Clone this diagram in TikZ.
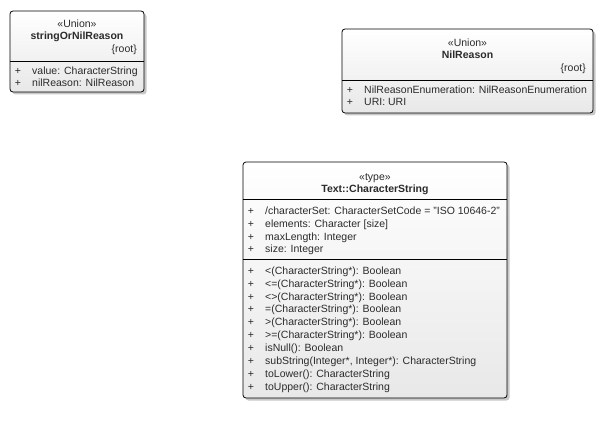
\documentclass[tikz,border=0pt]{standalone}
\usepackage{fontspec}
\setmainfont{Liberation Sans}
\definecolor{txt}{HTML}{2B2B2B}
\definecolor{shadowc}{HTML}{C8C8C8}
\tikzset{
 lbl/.style={inner sep=0pt,text height=8pt,text depth=0pt,font=\fontsize{10.5}{12}\selectfont,text=txt},
 bname/.style={lbl,font=\fontsize{10.5}{12}\selectfont\bfseries},
 row/.style={lbl,anchor=west},
 boxshadow/.style={fill=shadowc,rounded corners=3pt},
 boxbody/.style={draw=black,line width=0.8pt,rounded corners=3pt,top color=white,bottom color=black!9},
 sepline/.style={draw=black,line width=0.8pt}
}
\begin{document}
\begin{tikzpicture}[x=1pt,y=-1pt]
\useasboundingbox (0,0) rectangle (603,428);
% ---- stringOrNilReason
\fill[boxshadow] (12.5,13.5) rectangle (146.5,94.5);
\path[boxbody] (10,11) rectangle (144,92);
\draw[sepline] (10,61) -- (144,61);
\node[lbl] (a1) at (77,24) {«Union»};
\node[bname] (a2) at (77,36) {stringOrNilReason};
\node[lbl,anchor=east] (a3) at (137,49) {\{root\}};
\node[lbl] (a4) at (18,71) {+};
\node[row] (a5) at (32,71) {value: CharacterString};
\node[lbl] (a6) at (18,83) {+};
\node[row] (a7) at (32,83) {nilReason: NilReason};
% ---- NilReason
\fill[boxshadow] (344.5,31.5) rectangle (595.5,115.5);
\path[boxbody] (342,29) rectangle (593,113);
\draw[sepline] (342,80) -- (593,80);
\node[lbl] (b1) at (467.5,43) {«Union»};
\node[bname] (b2) at (467.5,55) {NilReason};
\node[lbl,anchor=east] (b3) at (586,68) {\{root\}};
\node[lbl] (b4) at (350,90) {+};
\node[row] (b5) at (364,90) {NilReasonEnumeration: NilReasonEnumeration};
\node[lbl] (b6) at (350,102) {+};
\node[row] (b7) at (364,102) {URI: URI};
% ---- CharacterString
\fill[boxshadow] (245.5,164.5) rectangle (509.5,400.5);
\path[boxbody] (243,162) rectangle (507,398);
\draw[sepline] (243,199) -- (507,199);
\draw[sepline] (243,259) -- (507,259);
\node[lbl] (c1) at (375,176) {«type»};
\node[bname] (c2) at (375,188) {Text::CharacterString};
\foreach \yy/\tt [count=\i] in {
 210/{/characterSet: CharacterSetCode = "ISO 10646-2"},
 223/{elements: Character [size]},
 236/{maxLength: Integer},
 248/{size: Integer},
 270/{<(CharacterString*): Boolean},
 283/{<=(CharacterString*): Boolean},
 296/{<>(CharacterString*): Boolean},
 308/{=(CharacterString*): Boolean},
 321/{>(CharacterString*): Boolean},
 334/{>=(CharacterString*): Boolean},
 347/{isNull(): Boolean},
 360/{subString(Integer*, Integer*): CharacterString},
 373/{toLower(): CharacterString},
 386/{toUpper(): CharacterString}}
{
 \node[lbl] (p\i) at (251,\yy) {+};
 \node[row] (r\i) at (265,\yy) {\tt};
}
\end{tikzpicture}
\end{document}
